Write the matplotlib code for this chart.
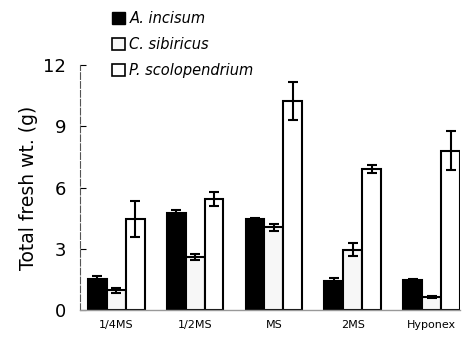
import numpy as np
import matplotlib.pyplot as plt
from matplotlib.patches import Patch

media = ['1/4MS', '1/2MS', 'MS', '2MS', 'Hyponex']
species = ['A. incisum', 'C. sibiricus', 'P. scolopendrium']

a_incisum = [1.52, 4.77, 4.45, 1.44, 1.47]
a_err = [0.15, 0.15, 0.05, 0.13, 0.05]
c_sibiricus = [0.98, 2.62, 4.05, 2.97, 0.65]
c_err = [0.12, 0.15, 0.15, 0.3, 0.05]
p_scolo = [4.45, 5.43, 10.25, 6.92, 7.82]
p_err = [0.88, 0.35, 0.95, 0.18, 0.95]

x = np.arange(len(media))
w = 0.24

fig = plt.figure(figsize=(4.69, 3.45), dpi=100)
ax = fig.add_axes([0.171, 0.101, 0.81, 0.71])

eb = dict(ecolor='black', elinewidth=1.5, capsize=3.8, capthick=1.5)
ax.bar(x - w, a_incisum, w, yerr=a_err, color='black', edgecolor='black',
       linewidth=1.5, error_kw=eb, zorder=2)
ax.bar(x, c_sibiricus, w, yerr=c_err, color='#f7f7f7', edgecolor='black',
       linewidth=1.5, error_kw=eb, zorder=2)
ax.bar(x + w, p_scolo, w, yerr=p_err, color='white', edgecolor='black',
       linewidth=1.5, error_kw=eb, zorder=2)

ax.set_xlim(-0.456, 4.36)
ax.set_ylim(0, 12)
ax.set_yticks([0, 3, 6, 9, 12])
ax.set_xticks(x)
ax.set_xticklabels(media, fontsize=8)
ax.tick_params(axis='x', length=0, pad=7)
ax.tick_params(axis='y', direction='in', length=4, labelsize=13, pad=10)
ax.set_ylabel('Total fresh wt. (g)', fontsize=13.5, labelpad=4)

for s in ['top', 'right']:
    ax.spines[s].set_visible(False)
ax.spines['left'].set_linestyle((0, (6, 2)))
ax.spines['left'].set_color('#555555')
ax.spines['left'].set_linewidth(0.8)
ax.spines['bottom'].set_color('#999999')
ax.spines['bottom'].set_linewidth(1.0)

handles = [Patch(facecolor='black', edgecolor='black'),
           Patch(facecolor='#f7f7f7', edgecolor='black', linewidth=1.2),
           Patch(facecolor='white', edgecolor='black', linewidth=1.2)]
fig.legend(handles, species, loc='upper left', bbox_to_anchor=(0.226, 0.985),
           frameon=False, prop={'style': 'italic', 'size': 10.5},
           handlelength=0.9, handleheight=0.9, handletextpad=0.3,
           labelspacing=0.75, borderaxespad=0)

plt.savefig('out.png', dpi=100)
